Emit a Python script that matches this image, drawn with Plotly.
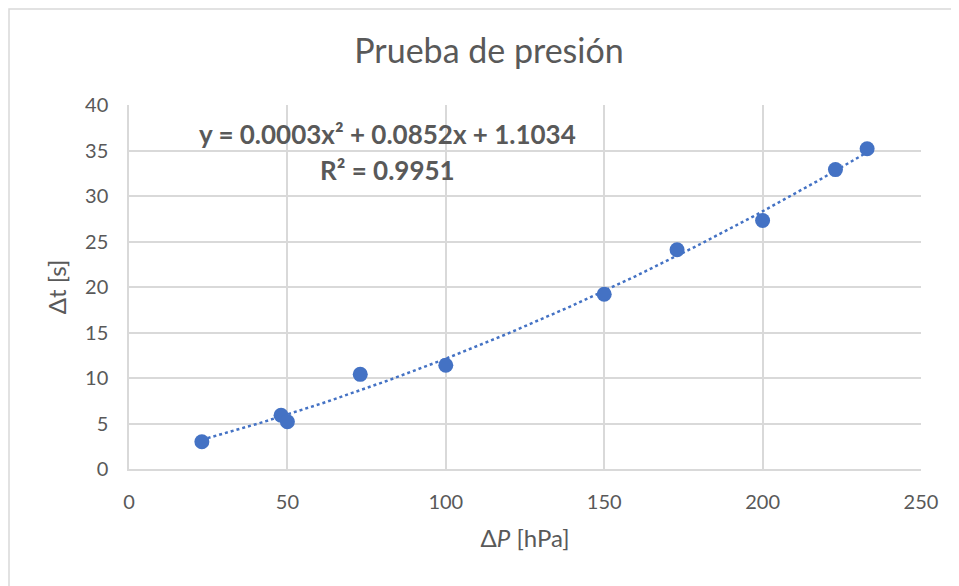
import numpy as np
import plotly.graph_objects as go

# Data
dP_hPa = [23, 48, 50, 73, 100, 150, 173, 200, 223, 233]
dt_s = [3.0, 5.9, 5.2, 10.4, 11.4, 19.2, 24.1, 27.3, 32.9, 35.2]

# Trendline label texts shown on the chart
eq_text = "y = 0.0003x² + 0.0852x + 1.1034"
r2_text = "R² = 0.9951"

x_ticks = [0, 50, 100, 150, 200, 250]
y_ticks = [0, 5, 10, 15, 20, 25, 30, 35, 40]

BLUE = "#4472C4"
GREY = "#595959"
GRID = "#d9d9d9"
FONT = "Lato, sans-serif"

# second-order polynomial trendline fitted to the data
coef = np.polyfit(dP_hPa, dt_s, 2)
xt = np.linspace(min(dP_hPa), max(dP_hPa), 200)
yt = np.polyval(coef, xt)

W, H = 951, 578          # page has an 8px body margin
L, R, T, B = 121, 38, 97, 117
PW, PH = W - L - R, H - T - B

fig = go.Figure()
fig.add_trace(go.Scatter(x=xt, y=yt, mode="lines",
                         line=dict(color=BLUE, width=2.5, dash="dot"),
                         hoverinfo="skip", showlegend=False))
fig.add_trace(go.Scatter(x=dP_hPa, y=dt_s, mode="markers",
                         marker=dict(color=BLUE, size=15),
                         showlegend=False))

fig.update_layout(
    width=W, height=H,
    margin=dict(l=L, r=R, t=T, b=B),
    paper_bgcolor="white", plot_bgcolor="white",
    font=dict(family=FONT, color=GREY, size=20),
    title=dict(text="Prueba de presión", x=481 / W, xanchor="center",
               y=1 - 43 / H, yanchor="middle", yref="container",
               font=dict(size=34, color=GREY, family=FONT)),
    xaxis=dict(range=[0, 250], tickvals=x_ticks, showgrid=True, gridcolor=GRID,
               gridwidth=1.5, showline=True, linecolor=GRID, linewidth=1.5,
               zeroline=False, ticks="", ticklabelstandoff=14,
               tickfont=dict(size=20, color=GREY),
               title=dict(text="Δ<i>P</i> [hPa]", standoff=18,
                          font=dict(size=24, color=GREY))),
    yaxis=dict(range=[0, 40], tickvals=y_ticks, showgrid=True, gridcolor=GRID,
               gridwidth=1.5, showline=True, linecolor=GRID, linewidth=1.5,
               zeroline=False, ticks="", ticklabelstandoff=15,
               tickfont=dict(size=20, color=GREY),
               title=dict(text="Δt [s]", standoff=12,
                          font=dict(size=24, color=GREY))),
    shapes=[dict(type="rect", xref="paper", yref="paper",
                 x0=(1 - L) / PW, x1=(W + 20 - L) / PW,
                 y0=-(B + 20) / PH, y1=1 + (T - 1) / PH,
                 line=dict(color="#d9d9d9", width=1.5), layer="below")],
    annotations=[
        dict(text=eq_text, x=(387 - 129) / PW, y=(469 - 134) / PH,
             xref="paper", yref="paper", showarrow=False,
             xanchor="center", yanchor="middle",
             font=dict(size=26, color=GREY, family=FONT, weight="bold")),
        dict(text=r2_text, x=(387 - 129) / PW, y=(469 - 170) / PH,
             xref="paper", yref="paper", showarrow=False,
             xanchor="center", yanchor="middle",
             font=dict(size=26, color=GREY, family=FONT, weight="bold")),
    ],
)

fig.write_html("out.html")
